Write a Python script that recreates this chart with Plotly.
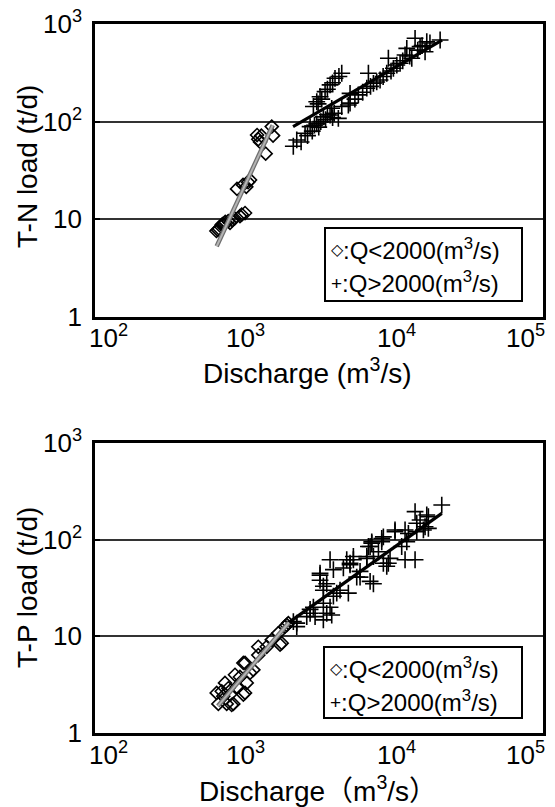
import math
import plotly.graph_objects as go

# The page body has an 8px default margin, so the figure is drawn 8px smaller
# and every reference pixel position is shifted by OFF.
OFF = 8
W, H = 555 - OFF, 807 - OFF

# ---------------- data ----------------
x_tickvals = [100, 1000, 10000, 100000]
x_ticktext = ["10<sup>2</sup>", "10<sup>3</sup>", "10<sup>4</sup>", "10<sup>5</sup>"]
y_tickvals = [1, 10, 100, 1000]
y_ticktext = ["1", "10", "10<sup>2</sup>", "10<sup>3</sup>"]

# T-N, Q<2000
tn_lo_q = [650, 665, 680, 700, 706, 720, 745, 780, 802, 830, 860, 893, 935, 960, 980, 1011, 1030,
           1060, 1092, 1217, 1240, 1274, 1300, 1390, 1526, 1557]
tn_lo_l = [7.6, 7.8, 8.0, 8.4, 8.8, 9.0, 9.4, 9.6, 9.2, 9.8, 10.2, 20.5, 10.8, 11.2, 22.5, 11.6, 21.5,
           24.0, 25.3, 73, 66, 62, 72, 47, 89, 72]
# T-N, Q>2000
tn_hi_q = [2128, 2244, 2400, 2551, 2650, 2757, 2850, 2950, 3055, 3150, 3250, 3382, 3500, 3600,
           3750, 3900, 4000, 4262, 2900, 3055, 3120, 3214, 3300, 3473, 3600, 3751, 3900, 4048,
           4300, 4490, 3848, 4490, 4973, 5104, 5104, 5500, 5802, 6200, 6608, 6774, 7000, 7318,
           7700, 8108, 8500, 8988, 9217, 9600, 9960, 10500, 11040, 11500, 11920, 12240, 12800,
           13220, 13910, 14500, 15030, 15500, 16230, 16660, 17500, 20470]
tn_hi_l = [56, 65, 62, 76, 72, 89, 80, 92, 95, 88, 100, 112, 105, 118,
           117, 110, 122, 108, 143, 160, 152, 180, 170, 203, 215, 238, 250, 278,
           290, 313, 137, 143, 148, 155, 195, 170, 188, 200, 220, 313, 230, 247,
           255, 267, 290, 313, 446, 330, 352, 380, 396, 420, 482, 563, 470,
           446, 714, 540, 586, 600, 520, 659, 640, 686]

# T-P, Q<2000
tp_lo_q = [653, 670, 706, 723, 742, 762, 781, 802, 823, 844, 866, 889, 935, 985, 985, 1011,
           1011, 1038, 1092, 1149, 1240, 1240, 1413, 1526, 1690, 1735, 1780, 1873, 1922, 1971]
tp_lo_l = [2.6, 2.0, 2.7, 2.4, 3.3, 2.0, 2.9, 2.5, 1.95, 2.0, 4.0, 3.0, 3.8, 5.3, 2.5, 2.6,
           5.3, 3.3, 4.2, 4.5, 6.4, 7.8, 7.8, 9.2, 10.8, 8.2, 8.5, 12.6, 13.1, 13.7]
# T-P, Q>2000
tp_hi_q = [2130, 2244, 2244, 2618, 2757, 2757, 2900, 2977, 3214, 3214, 3214, 3382, 3382, 3382,
           3382, 3563, 3563, 3751, 3751, 3848, 3948, 3948, 4157, 4375, 4605, 4849, 4973, 5104,
           5104, 5373, 5373, 5658, 5956, 5956, 6608, 6608, 6774, 6954, 6954, 7133, 7133, 7318,
           7318, 7907, 8320, 8320, 8530, 8530, 8988, 9210, 9454, 10210, 10210, 11320, 11920,
           11920, 12240, 12550, 13910, 13910, 14280, 14280, 15030, 15820, 16230, 16660, 17080,
           17080, 20990]
tp_hi_l = [14.2, 13.7, 12.6, 16.0, 17.3, 19, 20, 16.0, 43, 38, 45, 14.8, 22, 30,
           33, 35, 17.3, 62, 20, 16.6, 49, 26, 28, 30, 51, 62, 28, 55,
           57, 62, 67, 41, 47, 41, 64, 67, 85, 37, 85, 95, 92, 67,
           35, 75, 95, 103, 57, 107, 53, 57, 64, 121, 126, 85, 62,
           126, 95, 116, 195, 62, 121, 148, 160, 126, 136, 180, 131,
           173, 228]

# regression lines (end points)
tn_fit_lo_q, tn_fit_lo_l = [653, 1550], [5.3, 92]
tn_fit_hi_q, tn_fit_hi_l = [2120, 21100], [89, 685]
tp_fit_lo_q, tp_fit_lo_l = [665, 1990], [1.9, 13.9]
tp_fit_hi_q, tp_fit_hi_l = [2024, 21000], [14.2, 187]

legend_lo = '<span style="font-size:16px;baseline-shift:4px">◇</span>:Q<2000(m<sup>3</sup>/s)'
legend_hi = '<span style="font-size:19px;baseline-shift:2px">+</span>:Q>2000(m<sup>3</sup>/s)'

# ---------------- figure ----------------
FONT = "Liberation Sans, Arial, sans-serif"


def px_x(p):
    return (p - OFF) / W


def px_y(p):
    return 1 - (p - OFF) / H


fig = go.Figure()

panels = [
    ("x", "y", tn_lo_q, tn_lo_l, tn_hi_q, tn_hi_l, tn_fit_lo_q, tn_fit_lo_l, tn_fit_hi_q, tn_fit_hi_l),
    ("x2", "y2", tp_lo_q, tp_lo_l, tp_hi_q, tp_hi_l, tp_fit_lo_q, tp_fit_lo_l, tp_fit_hi_q, tp_fit_hi_l),
]
for xa, ya, lq, ll, hq, hl, flq, fll, fhq, fhl in panels:
    fig.add_trace(go.Scatter(x=lq, y=ll, mode="markers", xaxis=xa, yaxis=ya, showlegend=False,
                             marker=dict(symbol="diamond-open", size=10, color="black",
                                         line=dict(width=1.6, color="black"))))
    fig.add_trace(go.Scatter(x=hq, y=hl, mode="markers", xaxis=xa, yaxis=ya, showlegend=False,
                             marker=dict(symbol="cross-thin-open", size=12, color="black",
                                         line=dict(width=1.6, color="black"))))
    fig.add_trace(go.Scatter(x=flq, y=fll, mode="lines", xaxis=xa, yaxis=ya, showlegend=False,
                             line=dict(color="#6e6e6e", width=4.5)))
    fig.add_trace(go.Scatter(x=flq, y=fll, mode="lines", xaxis=xa, yaxis=ya, showlegend=False,
                             line=dict(color="#b4b4b4", width=2)))
    fig.add_trace(go.Scatter(x=fhq, y=fhl, mode="lines", xaxis=xa, yaxis=ya, showlegend=False,
                             line=dict(color="black", width=3.2)))

xdom = [px_x(95), px_x(543)]
common_x = dict(type="log", range=[2, 5], tickvals=x_tickvals, ticktext=x_ticktext,
                showticklabels=False,
                showgrid=False, showline=True, linecolor="black", linewidth=2.6, mirror=True,
                ticks="", zeroline=False, automargin=False)
common_y = dict(type="log", range=[0, 3], tickvals=y_tickvals, ticktext=y_ticktext,
                showgrid=True, gridcolor="#333333", gridwidth=1.6,
                showline=True, linecolor="black", linewidth=2.6, mirror=True,
                ticks="inside", ticklen=5, tickwidth=2, tickcolor="black", ticklabelstandoff=5,
                ticklabeloverflow="allow",
                zeroline=False, tickfont=dict(family=FONT, size=26, color="black"),
                automargin=False)

fig.update_layout(
    width=W, height=H, margin=dict(l=0, r=0, t=0, b=0),
    paper_bgcolor="white", plot_bgcolor="white",
    xaxis=dict(domain=xdom, anchor="y", **common_x),
    yaxis=dict(domain=[px_y(317), px_y(24)], anchor="x", **common_y),
    xaxis2=dict(domain=xdom, anchor="y2", **common_x),
    yaxis2=dict(domain=[px_y(733), px_y(443)], anchor="x2", **common_y),
    font=dict(family=FONT, color="black"),
)

# x tick labels, placed on the axis scale (log axes take log10 positions for annotations);
# the outer ones are aligned to the frame like the original
anchors = ["left", "center", "center", "right"]
shifts = [-8, 1, 3, 4]
for xref, top in [("x", 318), ("x2", 735)]:
    for v, t, a, s in zip(x_tickvals, x_ticktext, anchors, shifts):
        fig.add_annotation(text=t, xref=xref, yref="paper", x=math.log10(v), y=px_y(top),
                           xanchor=a, yanchor="top", xshift=s, showarrow=False,
                           font=dict(family=FONT, size=26, color="black"))

# legend boxes (text symbols as in the original)
for (x0, y0, x1, y1) in [(325, 228, 522, 301), (324, 647, 522, 718)]:
    fig.add_shape(type="rect", xref="paper", yref="paper",
                  x0=px_x(x0), x1=px_x(x1), y0=px_y(y1), y1=px_y(y0),
                  line=dict(color="black", width=2), fillcolor="white", layer="above")
    for txt, cy in [(legend_lo, y0 + 21), (legend_hi, y0 + 54)]:
        fig.add_annotation(text=txt, xref="paper", yref="paper", x=px_x(x0 + 4), y=px_y(cy),
                           xanchor="left", yanchor="middle", showarrow=False,
                           font=dict(family=FONT, size=24, color="black"))

# axis titles
titles = [
    ("Discharge (m<sup>3</sup>/s)", 307, 371, 0),
    ("Discharge（m<sup>3</sup>/s）", 318, 789, 0),
    ("T-N load (t/d)", 27, 167, -90),
    ("T-P load (t/d)", 27, 588, -90),
]
for txt, cx, cy, ang in titles:
    fig.add_annotation(text=txt, xref="paper", yref="paper", x=px_x(cx), y=px_y(cy),
                       xanchor="center", yanchor="middle", showarrow=False, textangle=ang,
                       font=dict(family=FONT + ", Noto Sans CJK JP", size=28, color="black"))

fig.write_html("out.html")
